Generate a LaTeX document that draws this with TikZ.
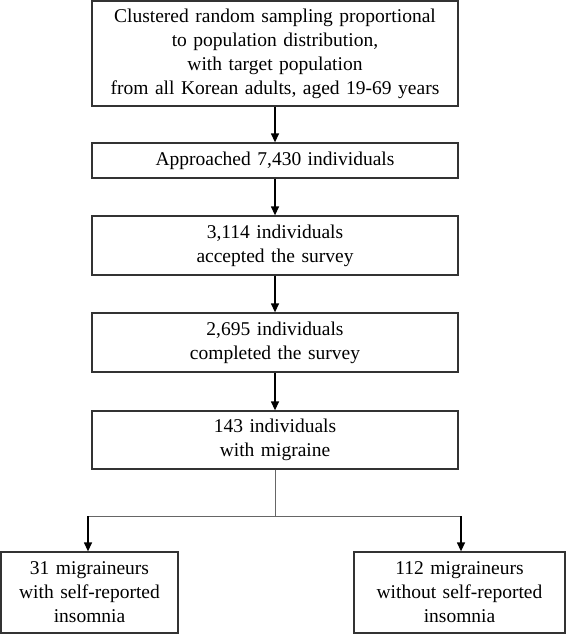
\documentclass[tikz,border=0pt]{standalone}
\usepackage{fontspec}
\setmainfont{Liberation Serif}
\usetikzlibrary{arrows.meta}

\begin{document}
\begin{tikzpicture}[x=1pt,y=-1pt]
	% `stage' is used for the boxes of the flow.
	% `flow' is used for the arrows between them.
	\tikzstyle{stage} = [draw=black!80,line width=1.3pt,fill=white,align=center,inner sep=0pt,font=\fontsize{19.5}{24}\selectfont]
	\tikzstyle{flow} = [line width=1.3pt,-{Triangle[length=9pt,width=8pt]}]
	\tikzstyle{branch} = [draw=black!60,line width=0.9pt]
	\useasboundingbox (0,0) rectangle (566,634);
	%
	\node[stage,text width=366pt,minimum height=105pt] (sampling) at (275,53.5) {Clustered random sampling proportional\\to population distribution,\\with target population\\from all Korean adults, aged 19-69 years};
	\node[stage,text width=366pt,minimum height=35pt] (approached) at (275,160.5) {Approached 7,430 individuals};
	\node[stage,text width=366pt,minimum height=59pt] (accepted) at (275,245.5) {3,114 individuals\\accepted the survey};
	\node[stage,text width=366pt,minimum height=59pt] (completed) at (275,342.5) {2,695 individuals\\completed the survey};
	\node[stage,text width=366pt,minimum height=58pt] (migraine) at (275,440) {143 individuals\\with migraine};
	% last row.
	\node[stage,text width=177pt,minimum height=81pt] (withins) at (89.5,592.5) {31 migraineurs\\with self-reported\\insomnia};
	\node[stage,text width=211pt,minimum height=81pt] (withoutins) at (459.5,592.5) {112 migraineurs\\without self-reported\\insomnia};
	%
	\draw[flow] (sampling) -- (approached);
	\draw[flow] (approached) -- (accepted);
	\draw[flow] (accepted) -- (completed);
	\draw[flow] (completed) -- (migraine);
	% split into the two groups.
	\coordinate (split) at (275,516);
	\coordinate (splitL) at (88,516);
	\coordinate (splitR) at (461,516);
	\draw[branch] (migraine) -- (split);
	\draw[branch] (splitL) -- (splitR);
	\draw[flow] (splitL) -- (splitL |- withins.north);
	\draw[flow] (splitR) -- (splitR |- withoutins.north);
\end{tikzpicture}
\end{document}
